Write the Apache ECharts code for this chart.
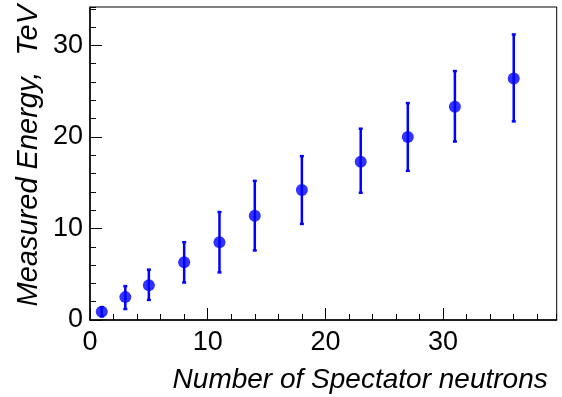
<!DOCTYPE html>
<html>
<head>
<meta charset="utf-8">
<script src="https://cdn.jsdelivr.net/npm/echarts@6/dist/echarts.min.js"></script>
<style>
html,body{margin:0;padding:0;background:#fff;}
#chart{width:562px;height:397px;}
</style>
</head>
<body>
<div id="chart"></div>
<script>
// Data
var nNeutrons = [1, 3, 5, 8, 11, 14, 18, 23, 27, 31, 36];
var energy    = [0.9, 2.5, 3.8, 6.3, 8.5, 11.4, 14.2, 17.3, 20.0, 23.3, 26.4];
var energyHi  = [1.4, 3.7, 5.5, 8.5, 11.8, 15.2, 17.9, 20.9, 23.7, 27.2, 31.2];
var energyLo  = [0.4, 1.2, 2.2, 4.1, 5.2, 7.6, 10.5, 13.9, 16.3, 19.5, 21.7];
var xTitle = 'Number of Spectator neutrons';
var yTitle = 'Measured Energy,  TeV';

var FONT = '"Liberation Sans", Arial, Helvetica, sans-serif';
var BLUE = '#0000ff';
var XMAX = 39.65, YMAX = 34.2;

var points = nNeutrons.map(function (x, i) { return [x, energy[i]]; });
var bars = nNeutrons.map(function (x, i) { return [x, energyLo[i], energyHi[i]]; });

var chart = echarts.init(document.getElementById('chart'), null, {renderer: 'canvas'});

var labelStyle = {color: '#000', fontFamily: FONT, fontSize: 27};

chart.setOption({
  animation: false,
  backgroundColor: '#fff',
  grid: {left: 90, top: 7, right: 5.3, bottom: 77, show: true, borderColor: '#000', borderWidth: 1, containLabel: false},
  xAxis: [{
    type: 'value', min: 0, max: XMAX, interval: 10,
    name: xTitle, nameLocation: 'end', nameGap: -9,
    nameTextStyle: {color: '#000', fontFamily: FONT, fontSize: 28, fontStyle: 'italic', align: 'right', verticalAlign: 'top', padding: [46, 0, 0, 0]},
    axisLine: {show: true, onZero: false, lineStyle: {color: '#000', width: 1.5}},
    axisTick: {show: true, inside: true, length: 12, lineStyle: {color: '#000', width: 1}},
    axisLabel: Object.assign({margin: 9, showMaxLabel: false}, labelStyle),
    splitLine: {show: false}
  }, {
    type: 'value', min: 0, max: XMAX, interval: 2, position: 'bottom',
    axisLine: {show: false},
    axisTick: {show: true, inside: true, length: 6, lineStyle: {color: '#000', width: 1}},
    axisLabel: {show: false},
    splitLine: {show: false}
  }],
  yAxis: [{
    type: 'value', min: 0, max: YMAX, interval: 10,
    name: yTitle, nameLocation: 'end', nameGap: 2, nameRotate: 90,
    nameTextStyle: {color: '#000', fontFamily: FONT, fontSize: 29, fontStyle: 'italic', align: 'right', verticalAlign: 'bottom', padding: [0, 0, 47, 0]},
    axisLine: {show: true, onZero: false, lineStyle: {color: '#000', width: 1.5}},
    axisTick: {show: true, inside: true, length: 12, lineStyle: {color: '#000', width: 1}},
    axisLabel: Object.assign({margin: 7, showMaxLabel: false, padding: [8, 0, 0, 0]}, labelStyle),
    splitLine: {show: false}
  }, {
    type: 'value', min: 0, max: YMAX, interval: 2, position: 'left',
    axisLine: {show: false},
    axisTick: {show: true, inside: true, length: 6, lineStyle: {color: '#000', width: 1}},
    axisLabel: {show: false},
    splitLine: {show: false}
  }],
  series: [{
    type: 'custom',
    xAxisIndex: 0, yAxisIndex: 0,
    data: bars,
    renderItem: function (params, api) {
      var x = api.value(0);
      var pLo = api.coord([x, api.value(1)]);
      var pHi = api.coord([x, api.value(2)]);
      var cap = 2;
      var st = {stroke: BLUE, lineWidth: 2.5};
      return {
        type: 'group',
        children: [
          {type: 'line', shape: {x1: pLo[0], y1: pLo[1], x2: pHi[0], y2: pHi[1]}, style: st},
          {type: 'line', shape: {x1: pLo[0] - cap, y1: pLo[1], x2: pLo[0] + cap, y2: pLo[1]}, style: st},
          {type: 'line', shape: {x1: pHi[0] - cap, y1: pHi[1], x2: pHi[0] + cap, y2: pHi[1]}, style: st}
        ]
      };
    },
    z: 2
  }, {
    type: 'scatter',
    xAxisIndex: 0, yAxisIndex: 0,
    data: points,
    symbol: 'circle', symbolSize: 12,
    itemStyle: {color: BLUE},
    z: 3
  }]
});
</script>
</body>
</html>
